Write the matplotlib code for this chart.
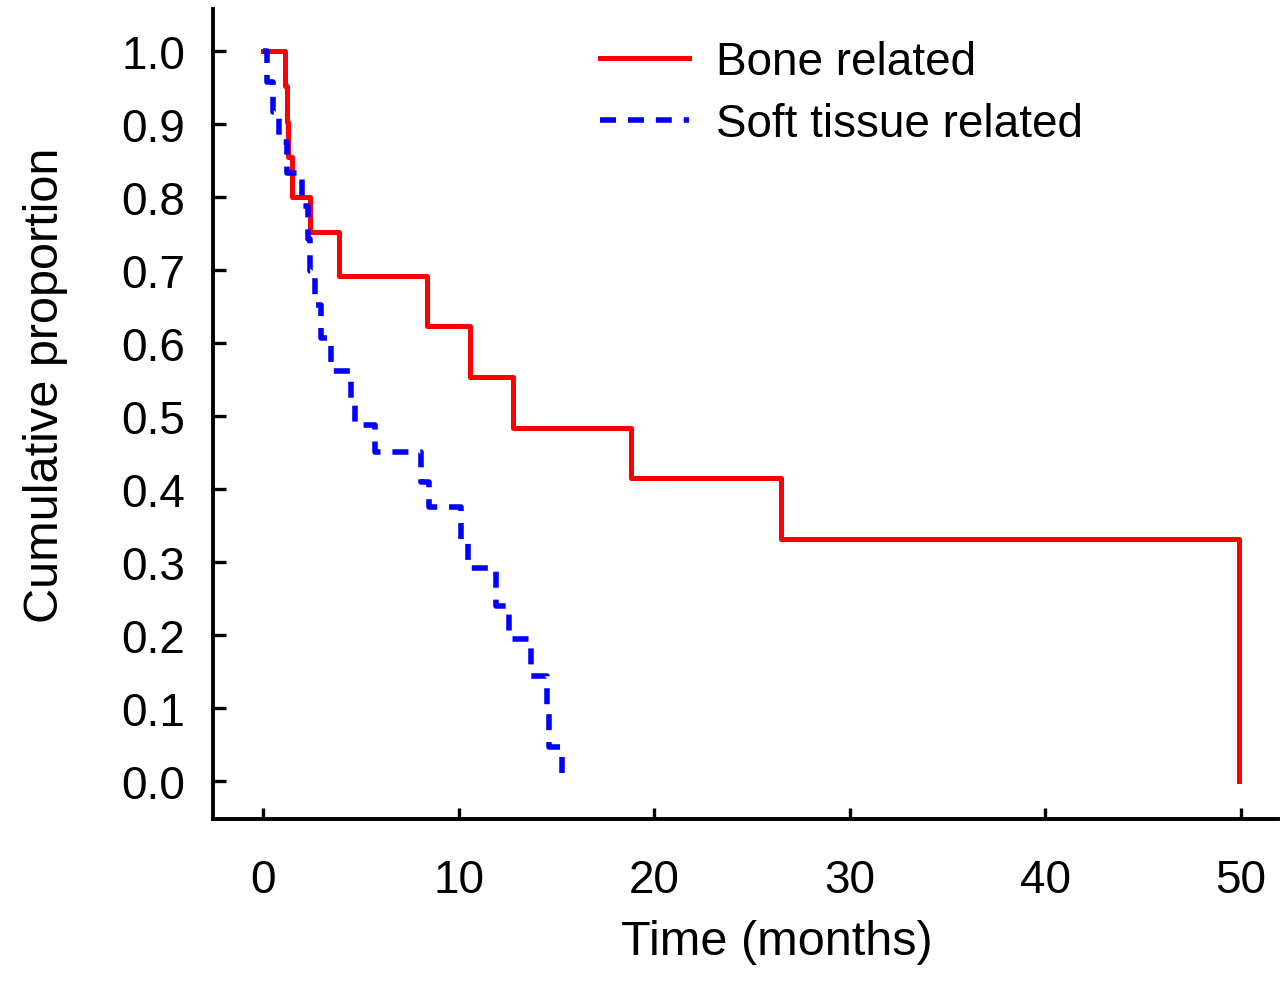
import matplotlib
matplotlib.use('Agg')
import matplotlib.pyplot as plt
import numpy as np

plt.rcParams['font.family'] = ['Liberation Sans Narrow', 'Liberation Sans', 'DejaVu Sans']
plt.rcParams['lines.scale_dashes'] = False

# Data (Kaplan-Meier steps)
bone_t = [0, 1.1, 1.2, 1.3, 1.5, 2.4, 3.9, 8.4, 10.6, 12.8, 18.8, 26.5, 49.9]
bone_s = [1.0, 0.952, 0.903, 0.855, 0.80, 0.752, 0.692, 0.623, 0.553, 0.484, 0.415, 0.332, 0.0]

soft_t = [0, 0.2, 0.5, 0.8, 1.2, 2.0, 2.3, 2.4, 2.65, 2.95, 3.5, 4.5, 4.7, 5.7,
          8.1, 8.5, 10.1, 10.5, 11.9, 12.6, 13.7, 14.5, 14.6, 15.3]
soft_s = [1.0, 0.958, 0.917, 0.875, 0.833, 0.788, 0.743, 0.698, 0.652, 0.607, 0.562, 0.523, 0.488, 0.451,
          0.41, 0.375, 0.33, 0.292, 0.24, 0.195, 0.144, 0.096, 0.047, 0.0]

x_ticks = [0, 10, 20, 30, 40, 50]
y_ticks = [0.0, 0.1, 0.2, 0.3, 0.4, 0.5, 0.6, 0.7, 0.8, 0.9, 1.0]

# Plotting
fig = plt.figure(figsize=(12.8, 9.95), dpi=100)
ax = fig.add_axes([0.1664, 0.1759, 0.832, 0.814])

ax.step(bone_t, bone_s, where='post', color='#ff0000', lw=3.6, label='Bone related')
ax.step(soft_t, soft_s, where='post', color='#0000ff', lw=4.0, linestyle=(0, (11.5, 8.6)),
        label='Soft tissue related')

ax.set_xlim(-2.56, 51.9)
ax.set_ylim(-0.052, 1.0575)
ax.set_xticks(x_ticks)
ax.set_yticks(y_ticks)
ax.set_yticklabels(['%.1f' % v for v in y_ticks])

for s in ['top', 'right']:
    ax.spines[s].set_visible(False)
for s in ['left', 'bottom']:
    ax.spines[s].set_linewidth(2.8)

ax.tick_params(axis='y', direction='in', length=9, width=2.4, labelsize=33, pad=20)
ax.tick_params(axis='x', direction='in', length=8, width=2.4, labelsize=33, pad=28)

ax.set_xlabel('Time (months)', fontsize=35)
ax.set_ylabel('Cumulative proportion', fontsize=35)
ax.xaxis.set_label_coords(0.529, -0.124)
ax.yaxis.set_label_coords(-0.136, 0.537)

ax.legend(loc='upper left', bbox_to_anchor=(0.363, 0.962), frameon=False, fontsize=33,
          handlelength=1.96, handletextpad=0.59, labelspacing=0.4, borderpad=0, borderaxespad=0)

fig.savefig('out.png', dpi=100)
